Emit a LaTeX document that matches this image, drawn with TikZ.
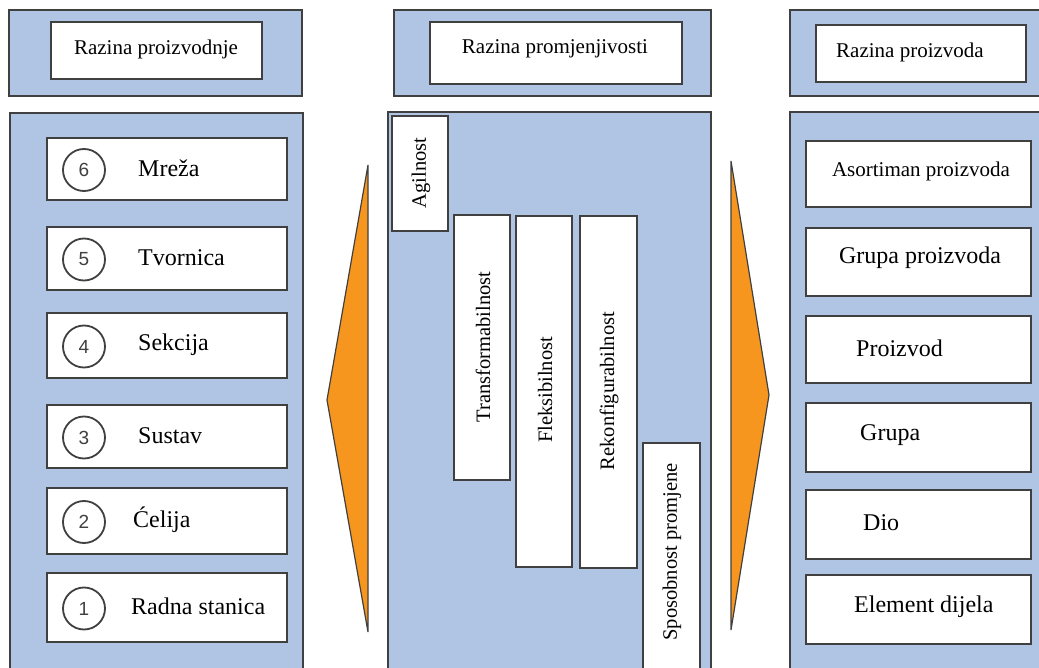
\documentclass[tikz,border=0pt]{standalone}
\usepackage{fontspec}
\setmainfont{Liberation Serif}
\newfontfamily\numfont{Liberation Sans}
\definecolor{panelblue}{RGB}{176,196,227}
\definecolor{edgegray}{RGB}{64,64,64}
\definecolor{arroworange}{RGB}{247,150,30}
\begin{document}
\begin{tikzpicture}[x=1pt,y=-1pt,
  panel/.style={draw=edgegray,line width=1.8pt,fill=panelblue},
  wbox/.style={draw=edgegray,line width=1.3pt,fill=white},
  numcirc/.style={circle,draw=edgegray,line width=1.8pt,minimum size=42pt,inner sep=0pt,font=\numfont\fontsize{19}{19}\selectfont\color{edgegray}},
  itemtxt/.style={anchor=west,inner sep=0pt,font=\fontsize{24}{28}\selectfont},
  headtxt/.style={inner sep=0pt,font=\fontsize{21}{25}\selectfont},
  vtxt/.style={rotate=90,inner sep=0pt,font=\fontsize{20.5}{24}\selectfont},
  tri/.style={draw=edgegray,line width=1.2pt,fill=arroworange,line join=miter}]
\useasboundingbox (0,0) rectangle (1039,668);
\clip (0,0) rectangle (1039,668);
% headers
\draw[panel] (9,10) rectangle (302,96);
\draw[panel] (394,10) rectangle (711,96);
\draw[panel] (790,10) rectangle (1050,96);
\draw[wbox] (51,22) rectangle (262,79);
\draw[wbox] (430,22) rectangle (682,84);
\draw[wbox] (816,25) rectangle (1026,82);
\node[headtxt] (h1) at (156,49) {Razina proizvodnje};
\node[headtxt] (h2) at (555,49) {Razina promjenjivosti};
\node[headtxt,anchor=west] (h3) at (836,52) {Razina proizvoda};
% main panels
\draw[panel] (10,113) rectangle (303,680);
\draw[panel] (388,112) rectangle (711,680);
\draw[panel] (790,112) rectangle (1050,680);
% left items
\foreach \n/\ya/\yb/\t/\tx in {6/138/200/Mreža/138, 5/227/290/Tvornica/138, 4/313/378/Sekcija/138, 3/405/468/Sustav/138, 2/488/554/Ćelija/133, 1/573/642/Radna stanica/131}{
  \draw[wbox] (47,\ya) rectangle (287,\yb);
  \node[numcirc] (c\n) at (84,{(\ya+\yb)/2+1}) {\n};
  \node[itemtxt] (l\n) at (\tx,{(\ya+\yb)/2-1}) {\t};
}
% middle bars
\draw[wbox] (392,116) rectangle (448,231);
\draw[wbox] (454,215) rectangle (510,480);
\draw[wbox] (516,216) rectangle (572,567);
\draw[wbox] (580,216) rectangle (637,568);
\draw[wbox] (643,443) rectangle (700,672);
\node[vtxt] (m1) at (421,173) {Agilnost};
\node[vtxt] (m2) at (483,347) {Transformabilnost};
\node[vtxt] (m3) at (545,390) {Fleksibilnost};
\node[vtxt] (m4) at (609,391) {Rekonfigurabilnost};
\node[vtxt] (m5) at (672,552) {Sposobnost promjene};
% right items
\foreach \k/\ya/\yb in {a/141/207, b/228/296, c/316/383, d/403/472, e/490/559, f/575/644}{
  \draw[wbox] (806,\ya) rectangle (1031,\yb);
}
\node[inner sep=0pt,font=\fontsize{21}{25}\selectfont] (ra) at (921,171) {Asortiman proizvoda};
\node[inner sep=0pt,font=\fontsize{24}{28}\selectfont] (rb) at (920,258) {Grupa proizvoda};
\node[itemtxt] (rc) at (856,348) {Proizvod};
\node[itemtxt] (rd) at (860,435) {Grupa};
\node[itemtxt] (re) at (863,523) {Dio};
\node[itemtxt] (rf) at (854,607) {Element dijela};
% arrows
\draw[tri] (368,165) -- (327,400) -- (368,632) -- cycle;
\draw[tri] (731,161) -- (769,395) -- (731,630) -- cycle;
\end{tikzpicture}
\end{document}
